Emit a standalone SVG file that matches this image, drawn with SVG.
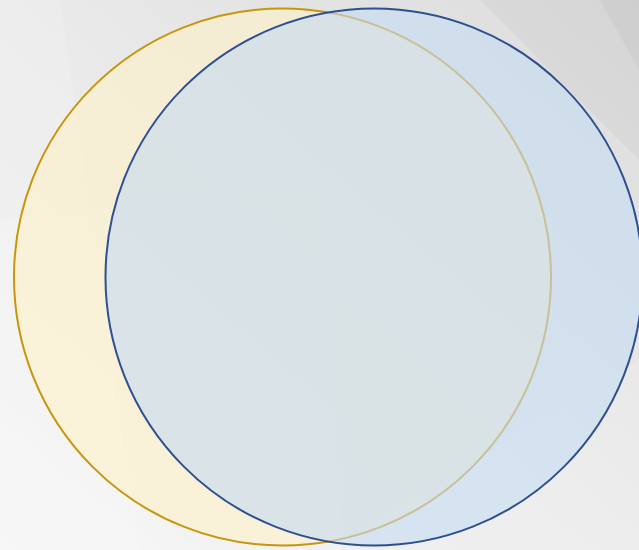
<svg xmlns="http://www.w3.org/2000/svg" width="639" height="550" viewBox="0 0 639 550">
  <defs>
    <linearGradient id="bg" x1="0" y1="1" x2="1" y2="0">
      <stop offset="0" stop-color="#f4f4f4"/>
      <stop offset="0.5" stop-color="#eaeaea"/>
      <stop offset="1" stop-color="#dcdcdc"/>
    </linearGradient>
    <style>
      .facet-l { fill: #ffffff; opacity: 0.15; }
      .facet-d { fill: #000000; opacity: 0.03; }
      .set { stroke-width: 2; }
      .set-a { fill: #fff0c8; fill-opacity: 0.6; stroke: #c8960a; }
      .set-b { fill: #c6dbf0; fill-opacity: 0.62; stroke: #2e5090; }
    </style>
  </defs>
  <g id="background">
    <rect x="0" y="0" width="639" height="550" fill="url(#bg)"/>
    <polygon class="facet-l" points="0,0 60,0 140,550 0,550"/>
    <polygon class="facet-l" points="0,400 200,550 0,550"/>
    <polygon class="facet-d" points="480,0 639,0 639,160"/>
    <polygon class="facet-d" points="600,0 639,0 639,70"/>
    <polygon class="facet-l" points="330,550 639,360 639,550"/>
    <polygon class="facet-l" points="0,220 330,180 340,550 0,550"/>
  </g>
  <g id="set-a">
    <circle class="set set-a" cx="282.5" cy="277" r="268.5"/>
  </g>
  <g id="set-b">
    <circle class="set set-b" cx="374" cy="277" r="268.5"/>
  </g>
</svg>
